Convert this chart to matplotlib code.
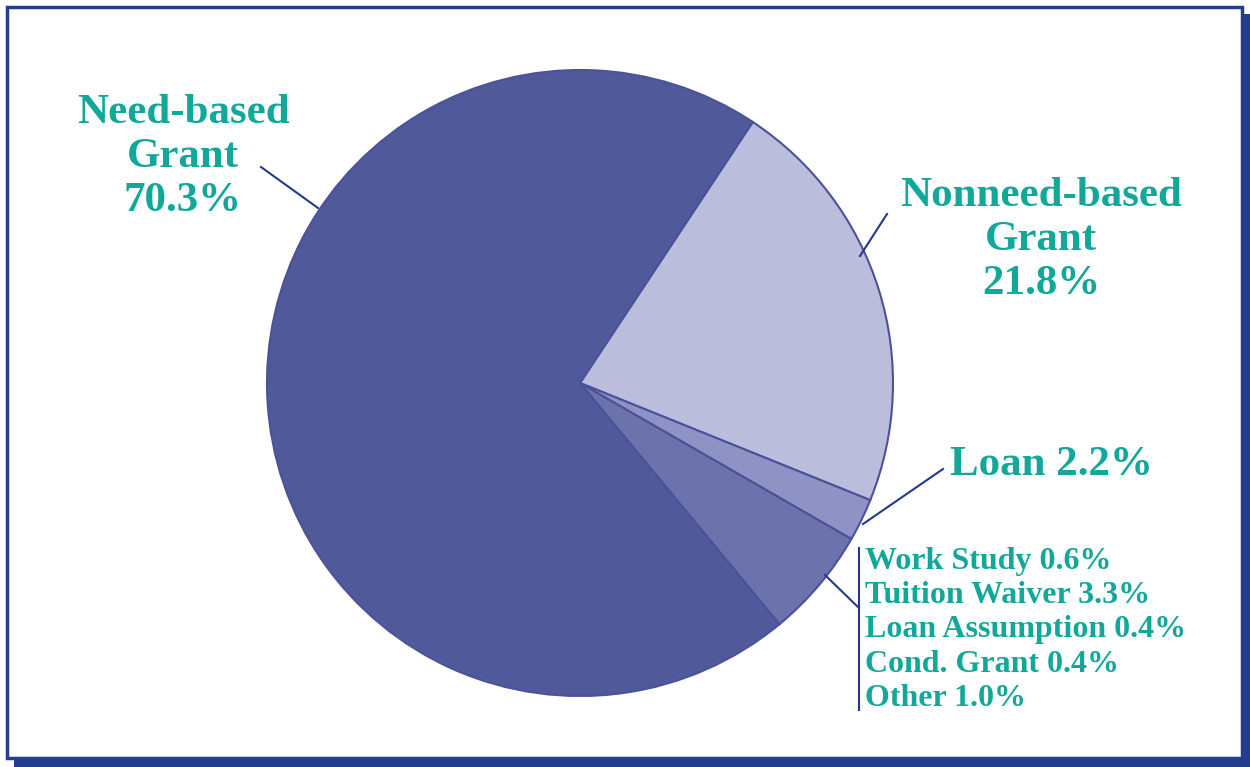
import matplotlib
matplotlib.use('Agg')
import matplotlib.pyplot as plt
from matplotlib.patches import Rectangle

# Financial aid distribution
main_labels = ['Nonneed-based\nGrant', 'Loan', 'Other types', 'Need-based\nGrant']
main_values = [21.8, 2.2, None, 70.3]
minor_labels = ['Work Study', 'Tuition Waiver', 'Loan Assumption', 'Cond. Grant', 'Other']
minor_values = [0.6, 3.3, 0.4, 0.4, 1.0]
main_values[2] = round(sum(minor_values), 1)

slice_colors = ['#bbbddc', '#8e92c4', '#6c72ab', '#505a9b']
TEAL = '#11a89a'
NAVY = '#26388c'
W, H = 1250, 767

plt.rcParams['font.family'] = ['Liberation Serif', 'DejaVu Serif']
fig = plt.figure(figsize=(12.5, 7.67), dpi=100)
fig.patch.set_facecolor('white')
ax = fig.add_axes([0, 0, 1, 1])

# frame with drop shadow
ax.add_patch(Rectangle((14, 0), W - 14, H - 14, facecolor='#233f8c', edgecolor='none', zorder=0))
ax.add_patch(Rectangle((7, 9), 1235, 751, facecolor='white', edgecolor='#233f8c',
                       linewidth=2.5, zorder=1))

wedges, _ = ax.pie(main_values, colors=slice_colors, startangle=56.5, counterclock=False,
                   center=(580, H - 383), radius=313,
                   wedgeprops=dict(edgecolor='#4a529a', linewidth=1.5))
for w in wedges:
    w.set_zorder(2)

ax.set_xlim(0, W)
ax.set_ylim(0, H)
ax.set_aspect('auto')
ax.axis('off')

def Y(y):
    return H - y

# labels
ax.text(183, Y(157), 'Need-based\nGrant\n70.3%', ha='center', va='center', color=TEAL,
        fontsize=31, fontweight='bold', linespacing=1.22)
ax.text(1041, Y(240), 'Nonneed-based\nGrant\n21.8%', ha='center', va='center', color=TEAL,
        fontsize=31, fontweight='bold', linespacing=1.22)
ax.text(950, Y(465), f'Loan {main_values[1]}%', ha='left', va='center', color=TEAL,
        fontsize=31, fontweight='bold')
minor_text = '\n'.join(f'{l} {v}%' for l, v in zip(minor_labels, minor_values))
ax.text(865, Y(630), minor_text, ha='left', va='center', color=TEAL,
        fontsize=23, fontweight='bold', linespacing=1.23)

# leader lines
lw = 1.5
ax.plot([261, 318], [Y(167), Y(208)], color=NAVY, lw=lw, zorder=3)
ax.plot([887, 860], [Y(214), Y(256)], color=NAVY, lw=lw, zorder=3)
ax.plot([943, 863], [Y(469), Y(524)], color=NAVY, lw=lw, zorder=3)
ax.plot([825, 859], [Y(575), Y(608)], color=NAVY, lw=lw, zorder=3)
ax.plot([859, 859], [Y(548), Y(710)], color=NAVY, lw=lw, zorder=3)

fig.savefig('out.png', dpi=100)
